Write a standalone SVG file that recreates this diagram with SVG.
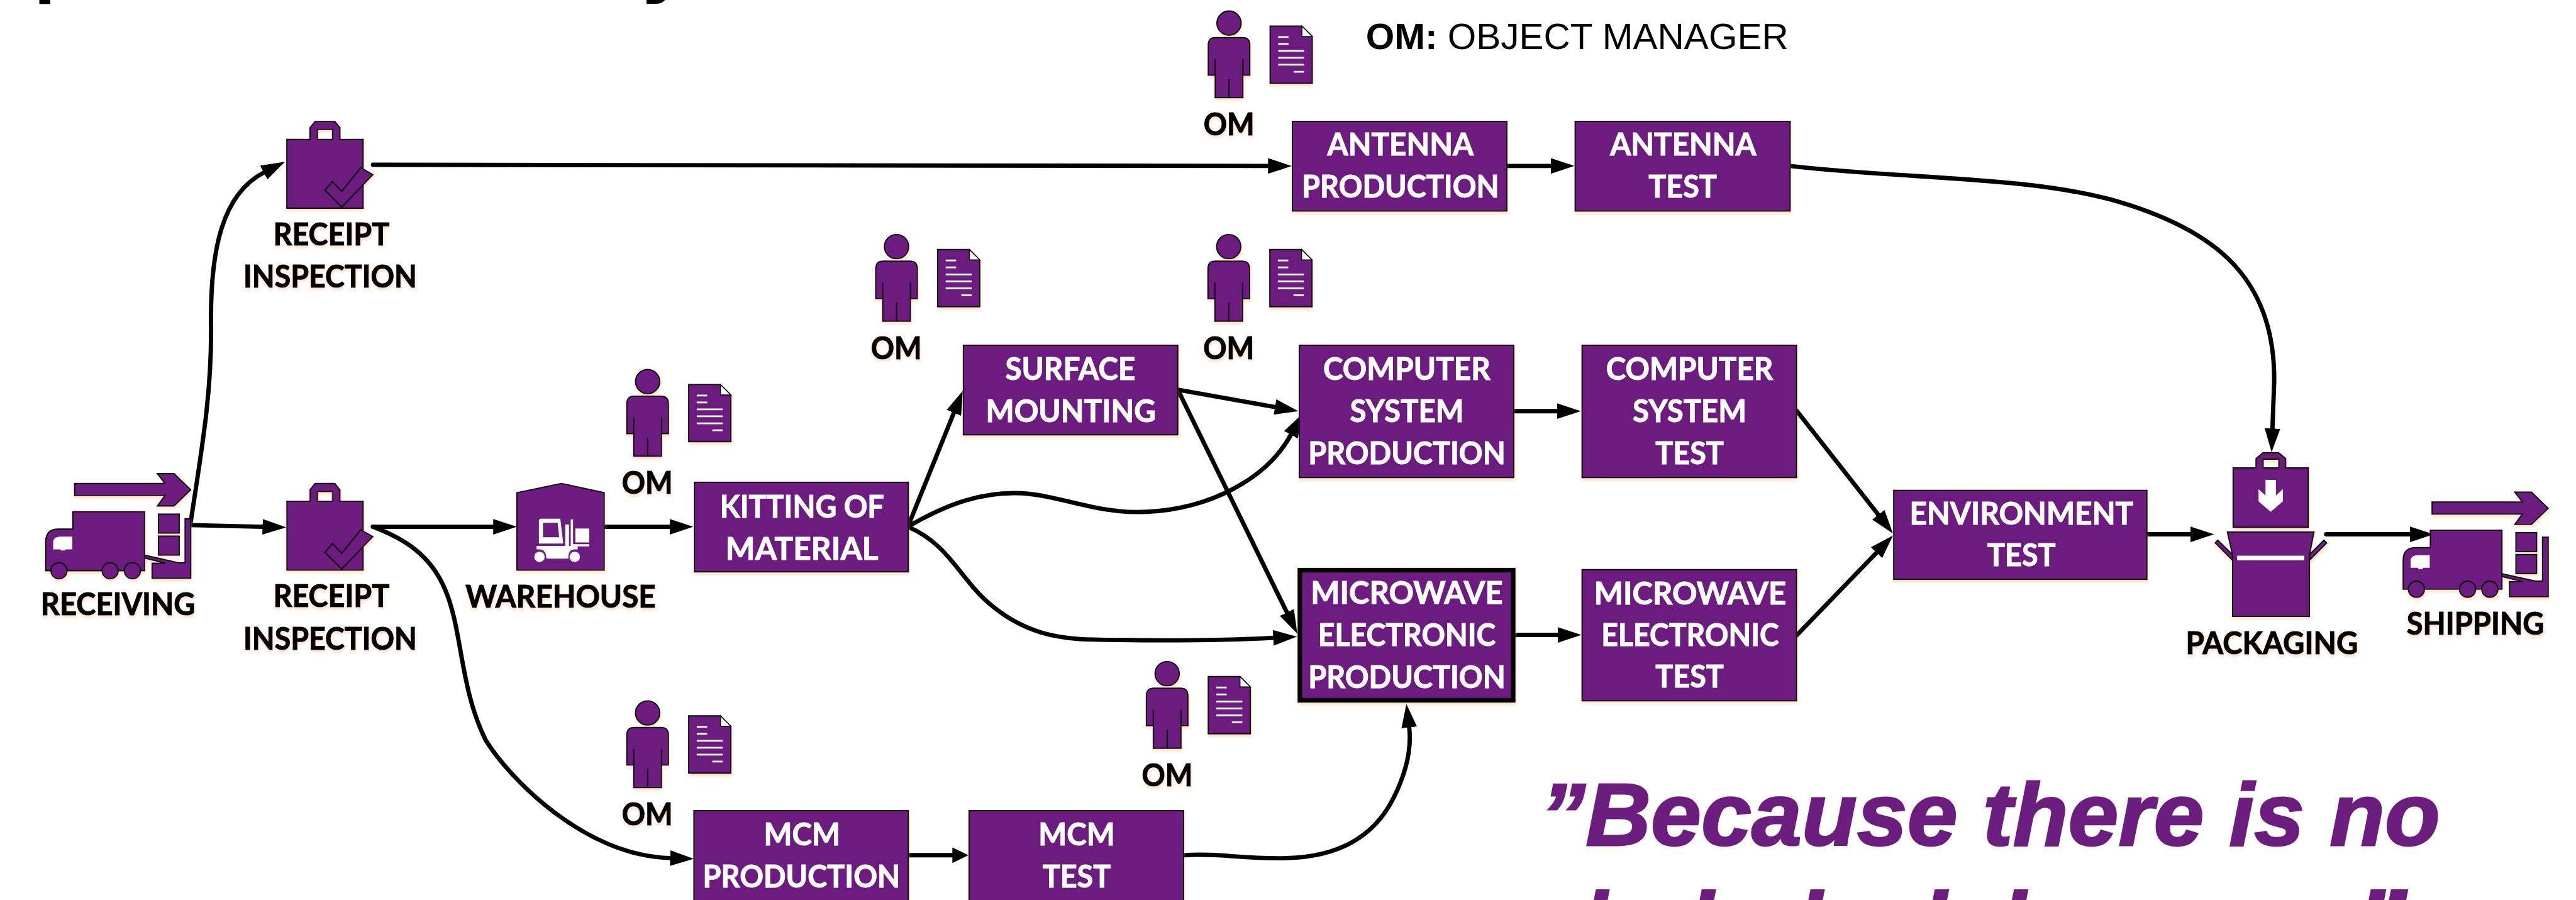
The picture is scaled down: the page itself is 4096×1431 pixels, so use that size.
<svg xmlns="http://www.w3.org/2000/svg" width="4096" height="1431" viewBox="0 0 4096 1431">
<style>
.p{fill:#6c1e7f;stroke:#000;stroke-width:2;stroke-linejoin:miter}
.f{fill:#6c1e7f}
.wf{fill:#fff}
.wl{stroke:#fff;stroke-width:3;fill:none}
.bl{stroke:#000;stroke-width:2;fill:none}
.t{font-family:Lato,"Open Sans","Liberation Sans",sans-serif;font-weight:700;font-size:53px;text-anchor:middle}
.k{fill:#000;stroke:#000;stroke-width:1.300}
.w{fill:#fff;stroke:#fff;stroke-width:1.100}
.c{fill:none;stroke:#000;stroke-width:7.500;stroke-linecap:round;stroke-linejoin:round}
.sh{filter:url(#sh)}
</style>
<defs>
<filter id="sh" x="-10%" y="-10%" width="120%" height="125%"><feDropShadow dx="1" dy="4" stdDeviation="2.5" flood-color="#f2a468" flood-opacity="0.35"/></filter>
<marker id="a" markerUnits="userSpaceOnUse" markerWidth="42" markerHeight="28" refX="1" refY="14" orient="auto"><path d="M0 .5L41 14L0 27.500Z" fill="#000"/></marker>
<marker id="as" markerUnits="userSpaceOnUse" markerWidth="30" markerHeight="28" refX="1" refY="14" orient="auto"><path d="M0 .5L28 14L0 27.500Z" fill="#000"/></marker>
<g id="om">
<circle class="p" cx="0" cy="0" r="21"/>
<path class="p" d="M-36 90V38Q-36 25-23 25H23Q36 25 36 38V90H24V129H-24V90Z"/>
<path class="bl" d="M-24 90V62M24 90V62M0 129V97"/>
<path class="p" d="M71 5H126L144 23V104H71Z"/>
<path d="M126 5L144 23H126Z" fill="#fff" stroke="#000" stroke-width="1.500"/>
<path class="wl" d="M85 24H103M85 36H103M85 48H130M85 60H130M85 72H130M112 84H130"/>
</g>
<g id="truck">
<path class="p" d="M79 987V937Q79 915 101 915H126V885H250V987Z"/>
<path class="wf" d="M92 935Q95 928 104 928H125V950H113V952H105V950H92Z"/>
<circle class="p" cx="102" cy="987" r="14"/><circle class="p" cx="190.500" cy="987" r="14"/><circle class="p" cx="229" cy="987" r="14"/>
<rect class="p" x="274" y="889" width="36" height="33"/><rect class="p" x="274" y="927" width="36" height="33"/>
<path class="p" d="M250 960L308 973H320V897H330V1000H263V974H286L250 965Z"/>
<path class="p" d="M129 836H285L272 819H301L330 847L301 875H272L285 857H129Z"/>
</g>
<g id="bag">
<path class="p" fill-rule="evenodd" d="M496 241H536V221L545 210H579L588 221V241H628V360H496ZM549 224V241H575V224Z"/>
<path class="p" d="M624 290L645 302L591 358L562 329L575 314L591 331Z"/>
</g>
</defs>
<g transform="scale(0.91942)">
<g id="clipped-title-stubs">
<rect x="68" y="0" width="19" height="7" fill="#000"/>
<path d="M1118 0H1150Q1146 6 1135 6.500H1118Z" fill="#000"/>
</g>

<g id="connectors">
<path class="c" marker-end="url(#a)" d="M329 908C350 770 366 680 365 565C363 430 385 335 457 298"/>
<path class="c" marker-end="url(#a)" d="M329 908L455 911"/>
<path class="c" marker-end="url(#a)" d="M645 285L2194 287"/>
<path class="c" marker-end="url(#a)" d="M645 911H854"/>
<path class="c" marker-end="url(#a)" d="M645 911C700 932 745 960 770 1020C800 1090 795 1190 840 1280C880 1345 1010 1480 1160 1484"/>
<path class="c" marker-end="url(#a)" d="M1045 911H1159"/>
<path class="c" marker-end="url(#a)" d="M1570 911L1650 713"/>
<path class="c" marker-end="url(#a)" d="M1570 911C1640 870 1700 850 1767 853C1840 858 1900 890 1984 885C2090 880 2190 830 2233 751"/>
<path class="c" marker-end="url(#a)" d="M1570 911C1640 940 1660 1000 1710 1043C1770 1095 1830 1105 1890 1106C1990 1108 2110 1108 2203 1103"/>
<path class="c" marker-end="url(#a)" d="M2037 674L2206 704"/>
<path class="c" marker-end="url(#a)" d="M2037 674L2226 1060"/>
<path class="c" marker-end="url(#a)" d="M2606 287H2683"/>
<path class="c" marker-end="url(#a)" d="M2618 711H2694"/>
<path class="c" marker-end="url(#a)" d="M2621 1098H2695"/>
<path class="c" marker-end="url(#a)" d="M3096 287C3300 310 3500 305 3650 345C3830 395 3935 480 3933 660L3930 742"/>
<path class="c" marker-end="url(#a)" d="M3107 710L3249 891"/>
<path class="c" marker-end="url(#a)" d="M3107 1099L3246 955"/>
<path class="c" marker-end="url(#a)" d="M3713 924H3789"/>
<path class="c" marker-end="url(#a)" d="M4023 924H4169"/>
<path class="c" marker-end="url(#as)" d="M1571 1479H1648"/>
<path class="c" marker-end="url(#a)" d="M2047 1479C2110 1475 2150 1486 2225 1484C2310 1482 2375 1450 2410 1380C2435 1330 2441 1290 2437 1257"/>
</g>

<g id="receiving" class="sh">
<use href="#truck"/>
<text class="t k" x="204" y="1064" textLength="267" lengthAdjust="spacingAndGlyphs">RECEIVING</text>
</g>
<g id="receipt-inspection-1" class="sh">
<use href="#bag"/>
<text class="t k" x="573" y="424" textLength="201" lengthAdjust="spacingAndGlyphs">RECEIPT</text>
<text class="t k" x="571" y="497" textLength="300" lengthAdjust="spacingAndGlyphs">INSPECTION</text>
</g>
<g id="receipt-inspection-2" class="sh">
<use href="#bag" transform="translate(0 626)"/>
<text class="t k" x="573" y="1050" textLength="201" lengthAdjust="spacingAndGlyphs">RECEIPT</text>
<text class="t k" x="571" y="1123" textLength="300" lengthAdjust="spacingAndGlyphs">INSPECTION</text>
</g>
<g id="warehouse" class="sh">
<path class="p" d="M894 852L971 836L1045 852V986H894Z"/>
<path class="wf" fill-rule="evenodd" d="M932 901Q932 897 936 897H969L974 940H932ZM939 904V929H967L964.500 904Z"/>
<rect class="wf" x="977.500" y="907" width="6.500" height="41"/>
<path class="wf" d="M987 898H991V941H1019V945H987Z"/>
<rect class="wf" x="995" y="914" width="24" height="24"/>
<path class="wf" d="M928 944H999V950H992Q982 952 983 966H945Q945 952 935 950H928Z"/>
<circle class="wf" cx="933" cy="963" r="9"/><circle class="wf" cx="994" cy="963" r="9"/>
<text class="t k" x="969.500" y="1051" textLength="329" lengthAdjust="spacingAndGlyphs">WAREHOUSE</text>
</g>
<g id="om-warehouse" class="sh"><use href="#om" transform="translate(1120 660)"/>
<text class="t k" x="1119.500" y="854" textLength="88" lengthAdjust="spacingAndGlyphs">OM</text></g>
<g id="om-mcm" class="sh"><use href="#om" transform="translate(1120 1233)"/>
<text class="t k" x="1119.500" y="1427" textLength="88" lengthAdjust="spacingAndGlyphs">OM</text></g>
<g id="om-surface" class="sh"><use href="#om" transform="translate(1550.500 426.500)"/>
<text class="t k" x="1550" y="620.500" textLength="88" lengthAdjust="spacingAndGlyphs">OM</text></g>
<g id="om-computer" class="sh"><use href="#om" transform="translate(2125 426.500)"/>
<text class="t k" x="2125" y="620.500" textLength="88" lengthAdjust="spacingAndGlyphs">OM</text></g>
<g id="om-antenna" class="sh"><use href="#om" transform="translate(2125.500 40)"/>
<text class="t k" x="2125.500" y="234" textLength="88" lengthAdjust="spacingAndGlyphs">OM</text></g>
<g id="om-microwave" class="sh"><use href="#om" transform="translate(2018.500 1165)"/>
<text class="t k" x="2018.500" y="1360" textLength="88" lengthAdjust="spacingAndGlyphs">OM</text></g>

<text id="legend" x="2362" y="85" font-family="'Liberation Sans',Arial,sans-serif" font-size="63" fill="#000" textLength="731" lengthAdjust="spacingAndGlyphs"><tspan font-weight="700">OM:</tspan> OBJECT MANAGER</text>

<g id="kitting" class="sh"><rect class="p" x="1201" y="834" width="370" height="155"/>
<text class="t w" x="1387" y="895" textLength="284" lengthAdjust="spacingAndGlyphs">KITTING OF</text>
<text class="t w" x="1387" y="968" textLength="264" lengthAdjust="spacingAndGlyphs">MATERIAL</text></g>
<g id="surface" class="sh"><rect class="p" x="1666" y="597" width="371" height="155"/>
<text class="t w" x="1851" y="657" textLength="225" lengthAdjust="spacingAndGlyphs">SURFACE</text>
<text class="t w" x="1852" y="730" textLength="294" lengthAdjust="spacingAndGlyphs">MOUNTING</text></g>
<g id="antenna-prod" class="sh"><rect class="p" x="2235" y="210" width="371" height="155"/>
<text class="t w" x="2422" y="269" textLength="253" lengthAdjust="spacingAndGlyphs">ANTENNA</text>
<text class="t w" x="2422" y="342" textLength="341" lengthAdjust="spacingAndGlyphs">PRODUCTION</text></g>
<g id="antenna-test" class="sh"><rect class="p" x="2724" y="210" width="372" height="155"/>
<text class="t w" x="2911" y="269" textLength="253" lengthAdjust="spacingAndGlyphs">ANTENNA</text>
<text class="t w" x="2910" y="342" textLength="118" lengthAdjust="spacingAndGlyphs">TEST</text></g>
<g id="computer-prod" class="sh"><rect class="p" x="2247" y="597" width="371" height="229"/>
<text class="t w" x="2433" y="657" textLength="289" lengthAdjust="spacingAndGlyphs">COMPUTER</text>
<text class="t w" x="2433" y="730" textLength="197" lengthAdjust="spacingAndGlyphs">SYSTEM</text>
<text class="t w" x="2433" y="803" textLength="341" lengthAdjust="spacingAndGlyphs">PRODUCTION</text></g>
<g id="computer-test" class="sh"><rect class="p" x="2736" y="597" width="371" height="229"/>
<text class="t w" x="2922" y="657" textLength="289" lengthAdjust="spacingAndGlyphs">COMPUTER</text>
<text class="t w" x="2922" y="730" textLength="197" lengthAdjust="spacingAndGlyphs">SYSTEM</text>
<text class="t w" x="2922" y="803" textLength="118" lengthAdjust="spacingAndGlyphs">TEST</text></g>
<g id="microwave-prod" class="sh"><rect class="p" style="stroke-width:8" x="2248" y="986" width="369" height="225"/>
<text class="t w" x="2433" y="1044" textLength="332" lengthAdjust="spacingAndGlyphs">MICROWAVE</text>
<text class="t w" x="2433" y="1117" textLength="307" lengthAdjust="spacingAndGlyphs">ELECTRONIC</text>
<text class="t w" x="2433" y="1190" textLength="341" lengthAdjust="spacingAndGlyphs">PRODUCTION</text></g>
<g id="microwave-test" class="sh"><rect class="p" x="2736" y="985" width="371" height="227"/>
<text class="t w" x="2923" y="1045" textLength="332" lengthAdjust="spacingAndGlyphs">MICROWAVE</text>
<text class="t w" x="2923" y="1117" textLength="307" lengthAdjust="spacingAndGlyphs">ELECTRONIC</text>
<text class="t w" x="2922" y="1189" textLength="118" lengthAdjust="spacingAndGlyphs">TEST</text></g>
<g id="environment" class="sh"><rect class="p" x="3275" y="848" width="438" height="154"/>
<text class="t w" x="3496" y="907" textLength="387" lengthAdjust="spacingAndGlyphs">ENVIRONMENT</text>
<text class="t w" x="3496" y="979" textLength="118" lengthAdjust="spacingAndGlyphs">TEST</text></g>
<g id="mcm-prod" class="sh"><rect class="p" x="1200" y="1402" width="371" height="156"/>
<text class="t w" x="1387" y="1462" textLength="132" lengthAdjust="spacingAndGlyphs">MCM</text>
<text class="t w" x="1386" y="1535" textLength="341" lengthAdjust="spacingAndGlyphs">PRODUCTION</text></g>
<g id="mcm-test" class="sh"><rect class="p" x="1676" y="1402" width="371" height="156"/>
<text class="t w" x="1862" y="1462" textLength="132" lengthAdjust="spacingAndGlyphs">MCM</text>
<text class="t w" x="1862" y="1535" textLength="118" lengthAdjust="spacingAndGlyphs">TEST</text></g>

<g id="packaging" class="sh">
<path class="p" fill-rule="evenodd" d="M3862 809H3901.500V793L3913.500 783H3941L3953 793V809H3992V912H3862ZM3914 794V809H3941V794Z"/>
<path class="wf" d="M3918 830H3936V857L3948 846V867L3927 885L3906 867V846L3918 857Z"/>
<path class="p" d="M3835.500 934L3831 939L3861 969V959Z"/>
<path class="p" d="M4019 934L4024 939L3994 969V959Z"/>
<path class="p" d="M3852 920H4002L3994 960V1066H3861V960Z"/>
<rect class="wf" x="3869" y="961" width="116" height="8"/>
<text class="t k" x="3929" y="1131" textLength="298" lengthAdjust="spacingAndGlyphs">PACKAGING</text>
</g>
<g id="shipping" class="sh">
<use href="#truck" transform="translate(4077 32)"/>
<text class="t k" x="4281" y="1097" textLength="238" lengthAdjust="spacingAndGlyphs">SHIPPING</text>
</g>

<g id="quote">
<text x="2664" y="1462" font-family="'Liberation Sans',Arial,sans-serif" font-weight="700" font-style="italic" font-size="154" fill="#6c1e7f" stroke="#6c1e7f" stroke-width="3" textLength="1556" lengthAdjust="spacingAndGlyphs">”Because there is no</text>
<path class="f" d="M2760 1538H2784L2780 1558H2756ZM2943 1538H2968L2964 1558H2939ZM3131 1538H3156L3152 1558H3127ZM3346 1538H3371L3367 1558H3342ZM3483 1538H3508L3504 1558H3479ZM4100 1538H4127L4123 1558H4096ZM4135 1538H4165L4161 1558H4131Z"/>
</g>
</g>
</svg>
